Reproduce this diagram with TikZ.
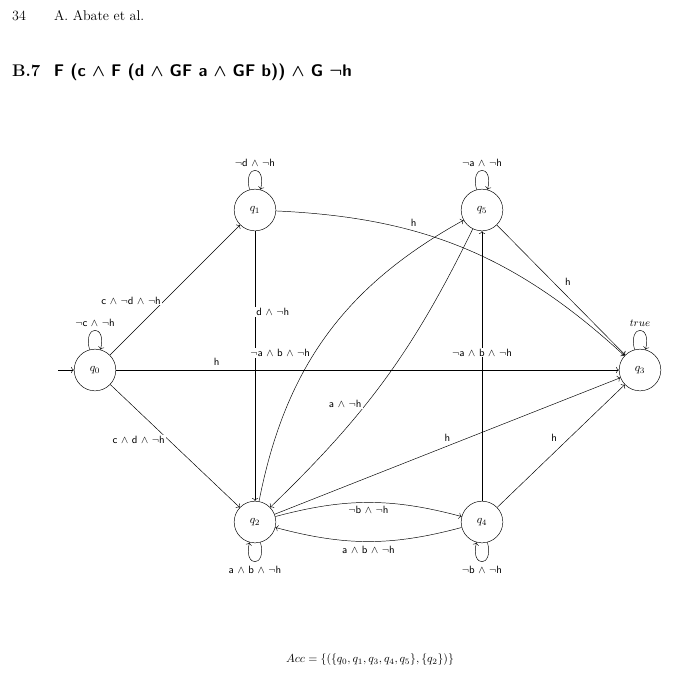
\documentclass[tikz,border=0pt]{standalone}
\usepackage{amsmath}
\usetikzlibrary{positioning, arrows.meta, automata}

\begin{document}
\begin{tikzpicture}[
    x=0.03cm, y=-0.03cm,
    >=To,
    % --- STYLES ---
    stateq/.style={circle, draw, minimum size=1.25cm, inner sep=0pt, font=\normalsize},
    lbl/.style={font=\small\sffamily, fill=white, inner sep=1pt},
    looplbl/.style={font=\small\sffamily},
    every loop/.style={looseness=6, min distance=0.8cm}
]
\useasboundingbox (0,0) rectangle (674,700);

% --- PAGE TEXT ---
\node (pagehead) [anchor=west] at (8,16) {\large 34\hspace{2em}A. Abate et al.};
\node (sectitle) [anchor=west] at (8,72) {\Large\bfseries B.7\hspace{0.8em}\sffamily F (c $\boldsymbol\wedge$ F (d $\boldsymbol\wedge$ GF a $\boldsymbol\wedge$ GF b)) $\boldsymbol\wedge$ G $\boldsymbol\neg$h};

% --- STATES ---
\node (q0) [stateq] at (95,370) {$q_0$};
\node (q1) [stateq] at (255,210) {$q_1$};
\node (q5) [stateq] at (482,210) {$q_5$};
\node (q3) [stateq] at (640,370) {$q_3$};
\node (q2) [stateq] at (255,522) {$q_2$};
\node (q4) [stateq] at (482,522) {$q_4$};
\coordinate (init) at (58,370);

% --- FLOWS ---
\draw [->] (init) -- (q0);
\draw [->] (q0) to [loop above] node[looplbl, above] {$\neg$c $\wedge$ $\neg$h} (q0);
\draw [->] (q1) to [loop above] node[looplbl, above] {$\neg$d $\wedge$ $\neg$h} (q1);
\draw [->] (q5) to [loop above] node[looplbl, above] {$\neg$a $\wedge$ $\neg$h} (q5);
\draw [->] (q3) to [loop above] node[looplbl, above] {$true$} (q3);
\draw [->] (q2) to [loop below] node[looplbl, below] {a $\wedge$ b $\wedge$ $\neg$h} (q2);
\draw [->] (q4) to [loop below] node[looplbl, below] {$\neg$b $\wedge$ $\neg$h} (q4);

\draw [->] (q0) -- (q1) node[lbl, pos=0.42, left=2pt] {c $\wedge$ $\neg$d $\wedge$ $\neg$h};
\draw [->] (q0) -- (q3) node[looplbl, pos=0.2, above] {h};
\draw [->] (q0) -- (q2) node[lbl, pos=0.45, left=2pt] {c $\wedge$ d $\wedge$ $\neg$h};
\draw [->] (q1) to [bend left=20] node[looplbl, pos=0.35, above] {h} (q3);
\draw [->] (q1) -- (q2) node[lbl, pos=0.3, right] {d $\wedge$ $\neg$h};
\draw [->] (q5) -- (q3) node[looplbl, pos=0.5, above right] {h};
\draw [->] (q2) to [bend left=25] node[lbl, pos=0.42, above left] {$\neg$a $\wedge$ b $\wedge$ $\neg$h} (q5);
\draw [->] (q5) to [bend left=10] node[lbl, pos=0.6, left=3pt] {a $\wedge$ $\neg$h} (q2);
\draw [->] (q2) -- (q3) node[looplbl, pos=0.5, above] {h};
\draw [->] (q2) to [bend left=15] node[looplbl, below] {$\neg$b $\wedge$ $\neg$h} (q4);
\draw [->] (q4) to [bend left=15] node[looplbl, below] {a $\wedge$ b $\wedge$ $\neg$h} (q2);
\draw [->] (q4) -- (q5) node[lbl, pos=0.55] {$\neg$a $\wedge$ b $\wedge$ $\neg$h};
\draw [->] (q4) -- (q3) node[looplbl, pos=0.5, above left] {h};

% --- ACCEPTANCE ---
\node (acc) at (370,660) {$Acc = \{(\{q_0,q_1,q_3,q_4,q_5\},\{q_2\})\}$};
\end{tikzpicture}
\end{document}
